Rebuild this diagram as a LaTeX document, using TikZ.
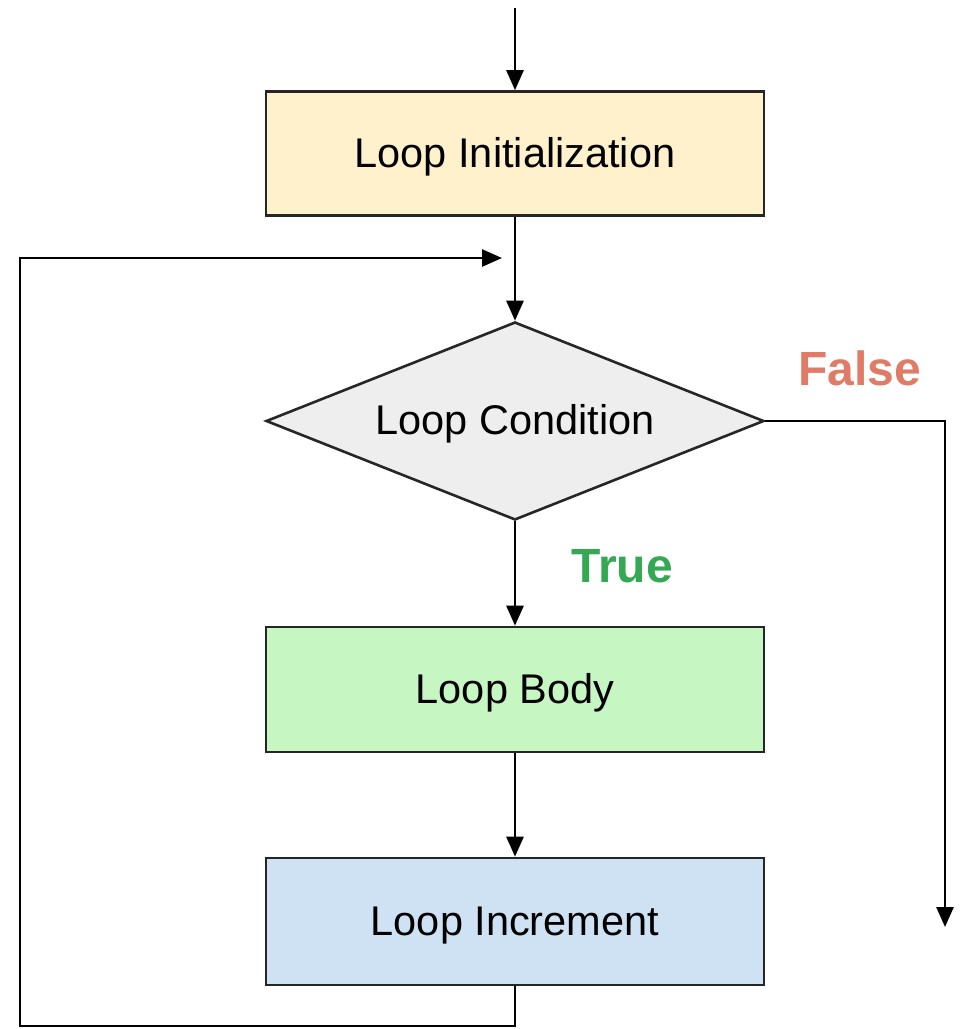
\documentclass[tikz,border=0pt]{standalone}
\usepackage{fontspec}
\setmainfont{Liberation Sans}
\usetikzlibrary{arrows.meta,shapes.geometric}
\definecolor{initfill}{HTML}{FFF1CC}
\definecolor{condfill}{HTML}{EEEEEE}
\definecolor{bodyfill}{HTML}{C6F6C2}
\definecolor{incfill}{HTML}{CFE2F3}
\definecolor{falsecol}{HTML}{E07B67}
\definecolor{truecol}{HTML}{34A853}
\tikzset{
  textstyle/.style={font=\fontsize{41.5}{48}\selectfont, text height=30pt, text depth=3pt},
  stepbox/.style={draw=black!85, line width=2.6pt, minimum width=498pt, minimum height=124pt,
    inner sep=0pt, textstyle},
  decision/.style={draw=black!85, line width=2.6pt, diamond, fill=condfill, inner sep=0pt,
    minimum width=498pt, minimum height=198pt, aspect=2.5},
  flow/.style={line width=2.6pt, -{Triangle[length=20pt,width=17pt]}},
  branch/.style={font=\bfseries\fontsize{48}{56}\selectfont}
}
\begin{document}
\begin{tikzpicture}[x=1pt,y=-1pt]
  \useasboundingbox (0,0) rectangle (968,1029);
  % process blocks
  \node[stepbox, fill=initfill] (init) at (515,153.5) {Loop Initialization};
  \node[decision] (cond) at (515,421) {};
  \node[textstyle] (condtxt) at (515,421) {Loop Condition};
  \node[stepbox, fill=bodyfill, minimum height=125pt] (body) at (515,689.5) {Loop Body};
  \node[stepbox, fill=incfill, minimum height=127pt] (inc) at (515,921.5) {Loop Increment};
  % branch labels
  \node[branch, text=falsecol] (falselbl) at (860,368) {False};
  \node[branch, text=truecol] (truelbl) at (622,566) {True};
  % helper points
  \coordinate (entry) at (515,8);
  \coordinate (exit) at (945,927);
  \coordinate (rejoin) at (502,258);
  \coordinate (backbottom) at (20,1026);
  % connectors
  \draw[flow] (entry) -- (init.north);
  \draw[flow] (init.south) -- (cond.north);
  \draw[flow] (cond.south) -- (body.north);
  \draw[flow] (body.south) -- (inc.north);
  \draw[flow] (cond.east) -| (exit);
  \draw[flow, line join=miter] (inc.south) |- (backbottom) |- (rejoin);
\end{tikzpicture}
\end{document}
